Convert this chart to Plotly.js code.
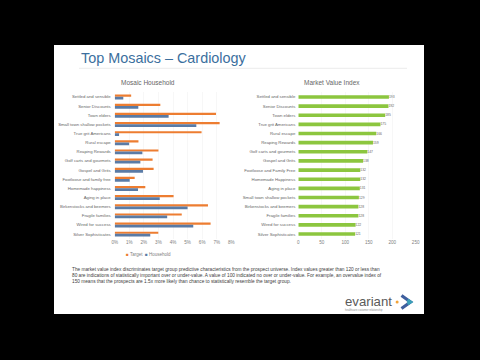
<!DOCTYPE html>
<html>
<head>
<meta charset="utf-8">
<script src="https://cdn.plot.ly/plotly-3.0.1.min.js"></script>
<style>
html,body{margin:0;padding:0;background:#000;}
#chart{width:480px;height:360px;}
</style>
</head>
<body>
<div id="chart"></div>
<script>
// ---- data ----
const mosaicCategories = [
  "Settled and sensible", "Senior Discounts", "Town elders", "Small town shallow pockets",
  "True grit Americans", "Rural escape", "Reaping Rewards", "Golf carts and gourmets",
  "Gospel and Grits", "Footloose and family free", "Homemade happiness", "Aging in place",
  "Birkenstocks and beemers", "Fragile families", "Wired for success", "Silver Sophisticates"
];
const targetShare = [0.0113, 0.0313, 0.0695, 0.0720, 0.0596, 0.0163, 0.0300, 0.0260,
  0.0267, 0.0137, 0.0210, 0.0404, 0.0640, 0.0460, 0.0658, 0.0299];
const householdShare = [0.0059, 0.0162, 0.0370, 0.0560, 0.0030, 0.0099, 0.0190, 0.0176,
  0.0194, 0.0103, 0.0160, 0.0309, 0.0500, 0.0360, 0.0539, 0.0244];

const mviCategories = [
  "Settled and sensible", "Senior Discounts", "Town elders", "True grit Americans",
  "Rural escape", "Reaping Rewards", "Golf carts and gourmets", "Gospel and Grits",
  "Footloose and Family Free", "Homemade Happiness", "Aging in place", "Small town shallow pockets",
  "Birkenstocks and beemers", "Fragile families", "Wired for success", "Silver Sophisticates"
];
const mviValues = [193, 192, 185, 175, 166, 159, 147, 138, 132, 132, 131, 129, 128, 128, 122, 121];

const pctTickVals = [0, 0.01, 0.02, 0.03, 0.04, 0.05, 0.06, 0.07, 0.08];
const pctTickText = ["0%", "1%", "2%", "3%", "4%", "5%", "6%", "7%", "8%"];
const mviTickVals = [0, 50, 100, 150, 200, 250];

// ---- helpers ----
const W = 480, H = 360;
const px = x => x / W;
const py = y => 1 - y / H;
const FONT = "Liberation Sans, Arial, sans-serif";
const ORANGE = "#ED7D31", BLUE = "#5a7ba6", GREEN = "#8cc63f";

const traces = [
  {type: "bar", orientation: "h", name: "Target", x: targetShare, y: mosaicCategories,
   xaxis: "x", yaxis: "y", marker: {color: ORANGE}, width: 0.24, offset: -0.26,
   hoverinfo: "x+y"},
  {type: "bar", orientation: "h", name: "Household", x: householdShare, y: mosaicCategories,
   xaxis: "x", yaxis: "y", marker: {color: BLUE}, width: 0.30, offset: -0.02,
   hoverinfo: "x+y"},
  {type: "bar", orientation: "h", name: "Market Value Index", x: mviValues, y: mviCategories,
   xaxis: "x2", yaxis: "y2", marker: {color: GREEN}, width: 0.40, offset: -0.2,
   text: mviValues.map(String), textposition: "outside", cliponaxis: false,
   textfont: {size: 4.6, color: "#666666", family: FONT}, hoverinfo: "x+y"}
];

const yDom = [py(238.6), py(92.4)];
const axisCommon = {
  showline: false, zeroline: false, ticks: "", fixedrange: true
};

const layout = {
  width: W, height: H,
  margin: {l: 0, r: 0, t: 0, b: 0},
  paper_bgcolor: "#000000",
  plot_bgcolor: "rgba(0,0,0,0)",
  font: {family: FONT, color: "#595959"},
  showlegend: false,
  barmode: "overlay",
  xaxis: Object.assign({}, axisCommon, {
    domain: [px(114.7), px(231.3)], range: [0, 0.08], anchor: "y",
    tickvals: pctTickVals, ticktext: pctTickText,
    tickfont: {size: 4.6, color: "#808080"},
    showgrid: true, gridcolor: "#f1f1f1", gridwidth: 0.6
  }),
  yaxis: Object.assign({}, axisCommon, {
    domain: yDom, anchor: "x", type: "category", autorange: "reversed",
    tickfont: {size: 4.3, color: "#666666"}, ticklabelstandoff: 3, showgrid: false
  }),
  xaxis2: Object.assign({}, axisCommon, {
    domain: [px(298.3), px(415.7)], range: [0, 250], anchor: "y2",
    tickvals: mviTickVals, tickfont: {size: 4.6, color: "#808080"},
    showgrid: true, gridcolor: "#f1f1f1", gridwidth: 0.6
  }),
  yaxis2: Object.assign({}, axisCommon, {
    domain: yDom, anchor: "x2", type: "category", autorange: "reversed",
    tickfont: {size: 4.3, color: "#666666"}, ticklabelstandoff: 2, showgrid: false
  }),
  shapes: [
    {type: "rect", xref: "paper", yref: "paper", x0: px(54), x1: px(424), y0: py(314), y1: py(45),
     fillcolor: "#ffffff", line: {width: 0}, layer: "below"},
    {type: "line", xref: "paper", yref: "paper", x0: px(79), x1: px(407), y0: py(68.3), y1: py(68.3),
     line: {color: "#e6e6e6", width: 0.8}, layer: "below"},
    {type: "circle", xref: "paper", yref: "paper", x0: px(395.6), x1: px(398.6), y0: py(303.5), y1: py(300.5),
     fillcolor: "#f2a43a", line: {width: 0}},
    {type: "path", xref: "paper", yref: "paper",
     path: "M " + px(401.5) + "," + py(295.5) + " L " + px(410.5) + "," + py(302) + " L " + px(401.5) + "," + py(308.5),
     line: {color: "#3f5f9e", width: 3.2}},
    {type: "path", xref: "paper", yref: "paper",
     path: "M " + px(407.5) + "," + py(300) + " L " + px(410.5) + "," + py(302) + " L " + px(407.5) + "," + py(304),
     line: {color: "#3a9fb8", width: 3.2}}
  ],
  annotations: [
    {text: "Top Mosaics – Cardiology", xref: "paper", yref: "paper", x: px(79), y: py(58.5),
     xanchor: "left", yanchor: "middle", showarrow: false,
     font: {size: 14.4, color: "#3b6f9e", family: FONT}},
    {text: "Mosaic Household", xref: "paper", yref: "paper", x: px(147.5), y: py(82.3),
     xanchor: "center", yanchor: "middle", showarrow: false,
     font: {size: 6.5, color: "#666666", family: FONT}},
    {text: "Market Value Index", xref: "paper", yref: "paper", x: px(331.5), y: py(82.3),
     xanchor: "center", yanchor: "middle", showarrow: false,
     font: {size: 6.5, color: "#666666", family: FONT}},
    {text: '<span style="color:' + ORANGE + '">■</span> Target  <span style="color:' + BLUE + '">■</span> Household',
     xref: "paper", yref: "paper", x: px(148.5), y: py(254.3),
     xanchor: "center", yanchor: "middle", showarrow: false,
     font: {size: 4.5, color: "#808080", family: FONT}},
    {text: "The market value index discriminates target group predictive characteristics from the prospect universe. Index values greater than 120 or less than<br>" +
           "80 are indications of statistically important over or under-value. A value of 100 indicated no over or under-value. For example, an overvalue index of<br>" +
           "150 means that the prospects are 1.5x more likely than chance to statistically resemble the target group.",
     xref: "paper", yref: "paper", x: px(69.7), y: py(275.3),
     xanchor: "left", yanchor: "middle", align: "left", showarrow: false,
     font: {size: 4.75, color: "#404040", family: FONT}},
    {text: "evariant", xref: "paper", yref: "paper", x: px(342.5), y: py(301),
     xanchor: "left", yanchor: "middle", showarrow: false,
     font: {size: 13.2, color: "#5a5a5a", family: FONT}},
    {text: "healthcare customer relationship", xref: "paper", yref: "paper", x: px(343), y: py(310.3),
     xanchor: "left", yanchor: "middle", showarrow: false,
     font: {size: 2.6, color: "#8a8a8a", family: FONT}}
  ]
};

Plotly.newPlot("chart", traces, layout, {staticPlot: true, displayModeBar: false});
</script>
</body>
</html>
